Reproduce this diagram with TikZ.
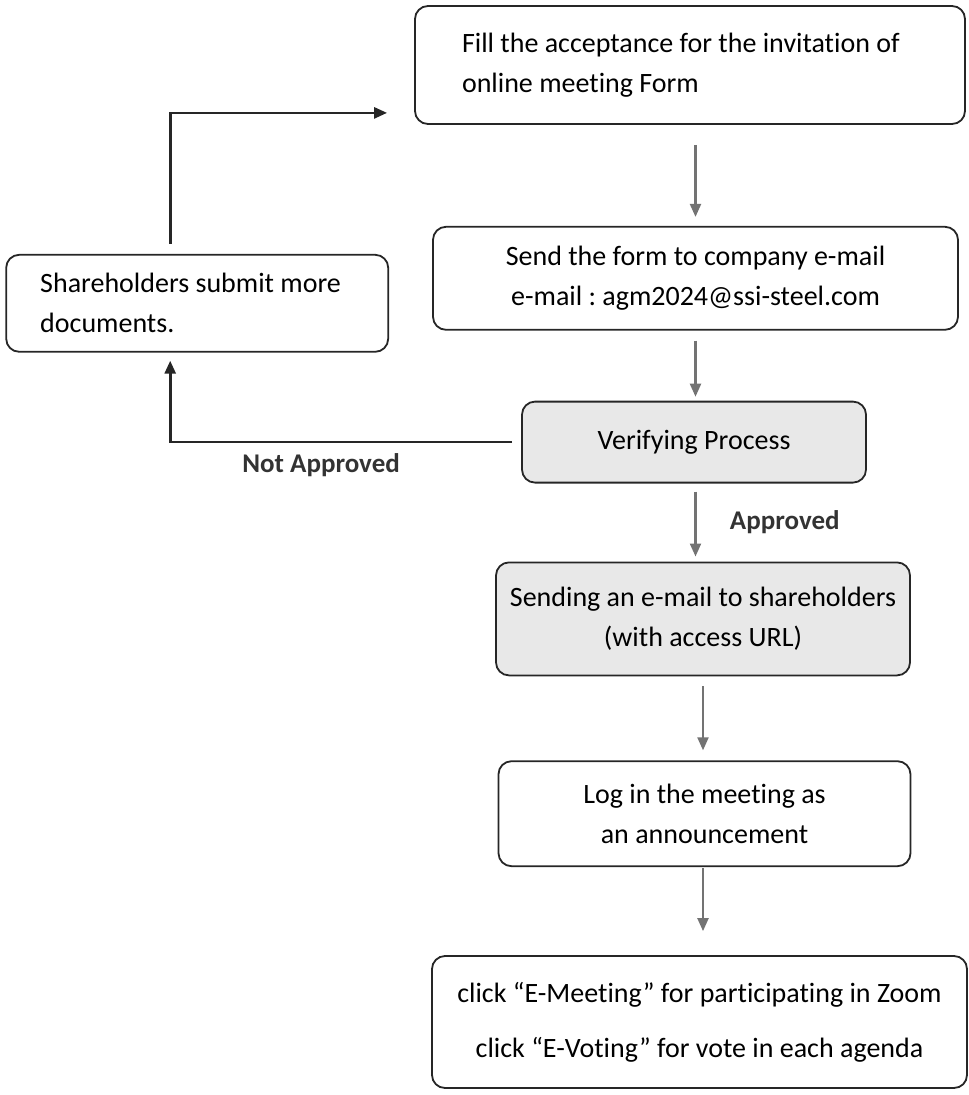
\documentclass[tikz,border=0pt]{standalone}
\usepackage{fontspec}
\setmainfont{Carlito}[Ligatures=NoCommon]
\usetikzlibrary{positioning,arrows.meta,calc}
\frenchspacing

\begin{document}
\begin{tikzpicture}[>={Triangle[length=13pt,width=11pt]},
      every node/.style={font=\fontsize{28}{40}\selectfont},
      box/.style={draw=black!85,line width=1.8pt,rounded corners=13pt,align=center,inner sep=0pt},
      shaded box/.style={box,fill=black!9},
      flow/.style={->,draw=black!55,line width=2.2pt},
      back/.style={->,draw=black!85,line width=2.6pt},
      verdict/.style={font=\fontsize{27}{32}\selectfont\bfseries,text=black!80}]
      \useasboundingbox (0,0) rectangle (969pt,-1095pt);

      \node[box,minimum width=550pt,minimum height=118pt,text width=456pt,align=flush left] (fill) at (690pt,-65pt)
        {Fill the acceptance for the invitation of\\online meeting Form};
      \node[box,minimum width=525pt,minimum height=103pt,below=101pt of fill,xshift=5.5pt] (send)
        {Send the form to company e-mail\\e-mail : agm2024@ssi-steel.com};
      \node[shaded box,minimum width=344pt,minimum height=81pt,below=70pt of send,xshift=-1.5pt] (verify)
        {Verifying Process};
      \node[shaded box,minimum width=414pt,minimum height=113pt,below=78pt of verify,xshift=9pt] (mail)
        {Sending an e-mail to shareholders\\(with access URL)};
      \node[box,minimum width=412pt,minimum height=105pt,below=84pt of mail,xshift=1.5pt] (login)
        {Log in the meeting as\\an announcement};
      \node[box,minimum width=535pt,minimum height=132pt,below=88pt of login,xshift=-5pt] (zoom)
        {click “E-Meeting” for participating in Zoom\\[15pt]click “E-Voting” for vote in each agenda};
      \node[box,minimum width=382pt,minimum height=97pt,text width=314pt,align=flush left,left=43pt of send,yshift=-25pt] (docs)
        {Shareholders submit more\\documents.};

      \coordinate (rise) at ($(docs.north)+(-27pt,0)$);
      \coordinate (drop) at ($(docs.south)+(-27pt,0)$);
      \coordinate (entry) at ($(fill.south west)+(0,12pt)$);

      % main flow
      \draw[flow,shorten <=20pt,shorten >=9pt] (fill.south -| send.north) -- (send.north);
      \draw[flow,shorten <=10pt,shorten >=4pt] (send.south) -- (send.south |- verify.north);
      \draw[flow,shorten <=8pt,shorten >=5pt] (send.south |- verify.south) -- (send.south |- mail.north)
        node[verdict,midway,right=30pt] {Approved};
      \draw[flow,shorten <=10pt,shorten >=10pt] (mail.south) -- (mail.south |- login.north);
      \draw[flow,shorten <=1pt,shorten >=24pt] (mail.south |- login.south) -- (mail.south |- zoom.north);

      % loop back
      \draw[back,shorten <=9pt,shorten >=8pt] (verify.west) -- (verify.west -| drop)
        node[verdict,pos=.57,yshift=-23pt] {Not Approved} -- (drop);
      \draw[back,shorten <=10pt,shorten >=27pt] (rise) |- (entry);
\end{tikzpicture}
\end{document}
